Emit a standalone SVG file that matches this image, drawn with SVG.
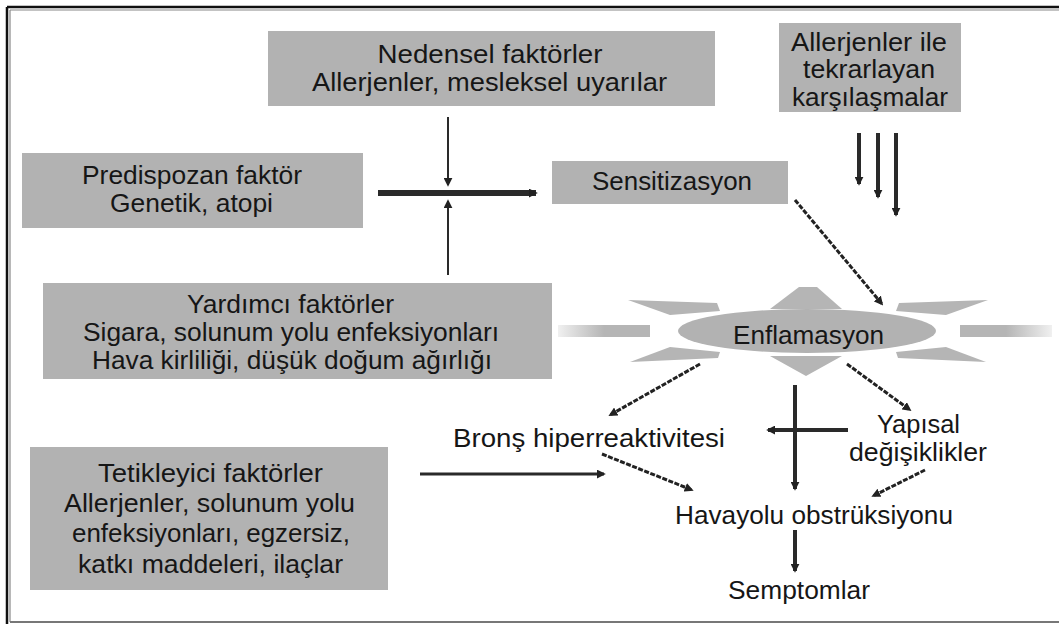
<svg xmlns="http://www.w3.org/2000/svg" width="1059" height="624" viewBox="0 0 1059 624">
<style>
.box{fill:#b2b2b2}
.t{font-family:"Liberation Sans",Arial,sans-serif;font-size:26px;fill:#161616;text-anchor:middle}
.ray{fill:#b5b5b5}
.c{stroke:#2a2a2a;fill:none}
.d{stroke:#222;fill:none;stroke-width:3;stroke-dasharray:5 1.5}
</style>
<defs>
<marker id="ah" viewBox="0 0 10 10" refX="8" refY="5" markerWidth="9" markerHeight="9" markerUnits="userSpaceOnUse" orient="auto">
<path d="M0,0 L10,5 L0,10 z" fill="#222"/>
</marker>
<linearGradient id="fadeL" x1="0" x2="1" y1="0" y2="0">
<stop offset="0" stop-color="#b5b5b5" stop-opacity="0.2"/>
<stop offset="0.5" stop-color="#b5b5b5"/>
</linearGradient>
<linearGradient id="fadeR" x1="0" x2="1" y1="0" y2="0">
<stop offset="0.5" stop-color="#b5b5b5"/>
<stop offset="1" stop-color="#b5b5b5" stop-opacity="0.2"/>
</linearGradient>
</defs>
<rect width="1059" height="624" fill="#fff"/>
<g id="frame">
<line x1="7" y1="7" x2="1059" y2="7" stroke="#111" stroke-width="2.5"/>
<line x1="10" y1="10" x2="1059" y2="10" stroke="#888" stroke-width="1.2"/>
<line x1="7" y1="7" x2="7" y2="624" stroke="#111" stroke-width="2.5"/>
<line x1="10" y1="10" x2="10" y2="622" stroke="#888" stroke-width="1.2"/>
<line x1="10" y1="622" x2="1059" y2="622" stroke="#777" stroke-width="2"/>
</g>
<g id="nedensel">
<rect class="box" x="268" y="31" width="447" height="75"/>
<text class="t" x="490" y="63" textLength="225" lengthAdjust="spacingAndGlyphs">Nedensel faktörler</text>
<text class="t" x="489.5" y="91" textLength="355" lengthAdjust="spacingAndGlyphs">Allerjenler, mesleksel uyarılar</text>
</g>
<g id="predispozan">
<rect class="box" x="22" y="153" width="341" height="75"/>
<text class="t" x="192" y="184" textLength="220" lengthAdjust="spacingAndGlyphs">Predispozan faktör</text>
<text class="t" x="191.5" y="212" textLength="163" lengthAdjust="spacingAndGlyphs">Genetik, atopi</text>
</g>
<g id="sensitizasyon">
<rect class="box" x="552" y="161" width="236" height="43"/>
<text class="t" x="672" y="190" textLength="160" lengthAdjust="spacingAndGlyphs">Sensitizasyon</text>
</g>
<g id="allerjenler">
<rect class="box" x="779" y="23" width="182" height="89"/>
<text class="t" x="869" y="51" textLength="156" lengthAdjust="spacingAndGlyphs">Allerjenler ile</text>
<text class="t" x="869" y="78" textLength="132" lengthAdjust="spacingAndGlyphs">tekrarlayan</text>
<text class="t" x="870" y="106" textLength="156" lengthAdjust="spacingAndGlyphs">karşılaşmalar</text>
</g>
<g id="yardimci">
<rect class="box" x="43" y="283" width="509" height="96"/>
<text class="t" x="290.5" y="313" textLength="207" lengthAdjust="spacingAndGlyphs">Yardımcı faktörler</text>
<text class="t" x="291" y="341" textLength="416" lengthAdjust="spacingAndGlyphs">Sigara, solunum yolu enfeksiyonları</text>
<text class="t" x="292" y="369" textLength="400" lengthAdjust="spacingAndGlyphs">Hava kirliliği, düşük doğum ağırlığı</text>
</g>
<g id="tetikleyici">
<rect class="box" x="30" y="447" width="358" height="143"/>
<text class="t" x="210.5" y="482" textLength="225" lengthAdjust="spacingAndGlyphs">Tetikleyici faktörler</text>
<text class="t" x="209.5" y="512" textLength="291" lengthAdjust="spacingAndGlyphs">Allerjenler, solunum yolu</text>
<text class="t" x="211" y="542" textLength="278" lengthAdjust="spacingAndGlyphs">enfeksiyonları, egzersiz,</text>
<text class="t" x="210.5" y="573" textLength="265" lengthAdjust="spacingAndGlyphs">katkı maddeleri, ilaçlar</text>
</g>
<g id="enflamasyon">
<polygon class="ray" points="770,309 799,287 817,287 842,309"/>
<polygon class="ray" points="628,300 717,303 720,311 670,315"/>
<polygon class="ray" points="988,300 899,303 896,311 946,315"/>
<rect x="558" y="325" width="92" height="12" fill="url(#fadeL)"/>
<rect x="960" y="325" width="92" height="12" fill="url(#fadeR)"/>
<polygon class="ray" points="630,362 670,347 720,352 718,358"/>
<polygon class="ray" points="986,362 946,347 896,352 898,358"/>
<polygon class="ray" points="770,356 842,356 806,376"/>
<ellipse cx="807" cy="331" rx="129" ry="22" fill="#b2b2b2"/>
<text class="t" x="808.5" y="344" textLength="151" lengthAdjust="spacingAndGlyphs">Enflamasyon</text>
</g>
<g id="bronş">
<text class="t" x="589" y="447" textLength="272" lengthAdjust="spacingAndGlyphs">Bronş hiperreaktivitesi</text>
</g>
<g id="yapisal">
<text class="t" x="918.5" y="433" textLength="83" lengthAdjust="spacingAndGlyphs">Yapısal</text>
<text class="t" x="918" y="461" textLength="138" lengthAdjust="spacingAndGlyphs">değişiklikler</text>
</g>
<g id="havayolu">
<text class="t" x="814" y="524" textLength="278" lengthAdjust="spacingAndGlyphs">Havayolu obstrüksiyonu</text>
</g>
<g id="semptomlar">
<text class="t" x="799" y="599" textLength="142" lengthAdjust="spacingAndGlyphs">Semptomlar</text>
</g>
<g id="connectors">
<line class="c" x1="448" y1="117" x2="448" y2="185" stroke-width="2" marker-end="url(#ah)"/>
<line class="c" x1="448" y1="275" x2="448" y2="201" stroke-width="2" marker-end="url(#ah)"/>
<line class="c" x1="378" y1="193" x2="536" y2="193" stroke-width="6" stroke="#333" marker-end="url(#ah)"/>
<line class="d" x1="795" y1="200" x2="882" y2="304" marker-end="url(#ah)"/>
<line class="c" x1="859" y1="133" x2="859" y2="184" stroke-width="4" stroke="#444" marker-end="url(#ah)"/>
<line class="c" x1="878" y1="133" x2="878" y2="197" stroke-width="4" stroke="#8a8a8a" marker-end="url(#ah)"/>
<line class="c" x1="896" y1="133" x2="896" y2="215" stroke-width="4" stroke="#555" marker-end="url(#ah)"/>
<line class="d" x1="700" y1="364" x2="610" y2="415" marker-end="url(#ah)"/>
<line class="d" x1="847" y1="364" x2="910" y2="410" marker-end="url(#ah)"/>
<line class="c" x1="795" y1="385" x2="795" y2="489" stroke-width="4" stroke="#555" marker-end="url(#ah)"/>
<line class="c" x1="848" y1="430" x2="768" y2="430" stroke-width="4" stroke="#333" marker-end="url(#ah)"/>
<line class="c" x1="420" y1="474" x2="604" y2="474" stroke-width="3" marker-end="url(#ah)"/>
<line class="d" x1="602" y1="454" x2="692" y2="490" marker-end="url(#ah)"/>
<line class="d" x1="925" y1="470" x2="873" y2="496" marker-end="url(#ah)"/>
<line class="c" x1="795" y1="530" x2="795" y2="571" stroke-width="4" stroke="#555" marker-end="url(#ah)"/>
</g>
</svg>
